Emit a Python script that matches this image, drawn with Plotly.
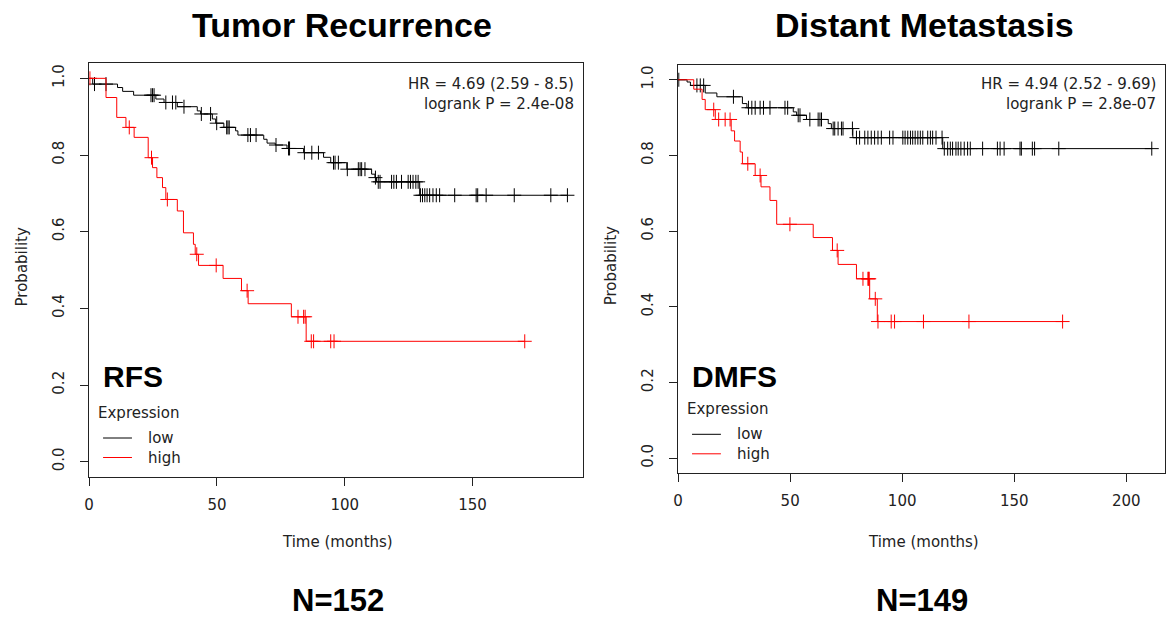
import plotly.graph_objects as go

W, H = 1166, 617

# ---------------- data: Tumor Recurrence (RFS) ----------------
rfs_low_t = [0, 1.4, 11.1, 13.1, 17.4, 26.1, 29.3, 34.5, 42.3, 43.6, 48.2, 49.5, 52.7, 57.3, 58.2,
             68.3, 69.6, 72.8, 77.4, 83.9, 91.7, 94.5, 100.8, 110.5, 111.8, 112.4, 129.3]
rfs_low_s = [1.0, 0.985, 0.976, 0.966, 0.956, 0.946, 0.937, 0.926, 0.915, 0.907, 0.894, 0.883, 0.872, 0.863, 0.852,
             0.841, 0.831, 0.826, 0.817, 0.806, 0.794, 0.780, 0.763, 0.750, 0.741, 0.730, 0.695]
rfs_low_cens = [2.1, 6.6, 24.2, 24.8, 25.4, 30.0, 32.6, 33.9, 37.1, 43.9, 47.5, 49.9, 53.8, 54.3, 54.8,
                62.1, 63.1, 65.3, 73.1, 78.0, 78.4, 84.2, 87.1, 89.7, 95.6, 96.2, 97.5, 101.0, 105.3, 106.0,
                106.6, 107.9, 112.0, 113.1, 113.8, 118.3, 119.2, 120.2, 122.2, 124.8, 125.7, 126.7, 127.8,
                128.7, 129.6, 130.4, 131.3, 132.2, 133.2, 134.5, 135.8, 137.1, 143.0, 151.4, 152.0, 155.3,
                166.3, 180.6, 187.1]
rfs_high_t = [0, 6.6, 10.8, 14.4, 17.6, 23.1, 24.8, 26.5, 28.7, 30.0, 34.5, 36.9, 40.8, 41.5, 42.8,
              52.4, 59.6, 62.2, 79.1, 84.9]
rfs_high_s = [1.0, 0.950, 0.898, 0.872, 0.846, 0.793, 0.767, 0.741, 0.715, 0.684, 0.654, 0.597, 0.567, 0.541, 0.512,
              0.478, 0.446, 0.412, 0.378, 0.314]
rfs_high_cens = [0.3, 15.7, 24.4, 30.6, 42.1, 49.7, 61.8, 81.7, 83.9, 84.5, 86.9, 87.8, 94.5, 95.8, 170.4]

# ---------------- data: Distant Metastasis (DMFS) ----------------
dmfs_low_t = [0, 4.0, 5.5, 12.1, 17.3, 28.7, 30.7, 51.4, 52.9, 57.3, 67.0, 68.4, 78.0, 118.1]
dmfs_low_s = [1.0, 0.994, 0.985, 0.965, 0.955, 0.937, 0.926, 0.915, 0.906, 0.895, 0.884, 0.871, 0.847, 0.818]
dmfs_low_cens = [0.3, 8.4, 9.9, 11.4, 24.7, 31.4, 32.9, 34.4, 36.6, 38.1, 41.0, 47.7, 48.9, 53.6, 54.4,
                 58.8, 62.5, 63.3, 64.0, 69.2, 69.9, 71.4, 72.9, 73.6, 77.8, 79.6, 81.0, 83.3, 84.7, 86.2,
                 87.7, 89.2, 90.7, 94.4, 95.9, 100.3, 101.3, 102.5, 103.7, 104.7, 105.8, 107.0, 108.1, 109.2,
                 111.4, 112.6, 113.6, 115.1, 117.8, 118.8, 120.3, 121.5, 122.5, 124.0, 125.0, 126.2, 127.7,
                 129.2, 130.4, 135.9, 142.5, 143.7, 145.5, 152.6, 153.2, 158.1, 159.1, 169.9, 211.4]
dmfs_high_t = [0, 7.0, 10.7, 12.1, 16.6, 23.7, 25.2, 27.7, 28.7, 34.4, 37.0, 41.0, 44.0, 60.3, 68.9,
               71.4, 79.6, 85.5, 88.9]
dmfs_high_s = [1.0, 0.975, 0.948, 0.921, 0.895, 0.865, 0.838, 0.809, 0.778, 0.747, 0.717, 0.681, 0.618, 0.583,
               0.549, 0.512, 0.474, 0.421, 0.361]
dmfs_high_cens = [15.9, 18.1, 21.0, 23.2, 31.1, 36.6, 49.9, 71.0, 82.5, 84.7, 85.0, 85.3, 88.0, 89.2,
                  95.1, 96.6, 109.5, 129.8, 171.6]

panels = [
    dict(title="Tumor Recurrence", n="N=152", tag="RFS", hr="HR = 4.69 (2.59 - 8.5)", p="logrank P = 2.4e-08",
         low=(rfs_low_t, rfs_low_s, rfs_low_cens), high=(rfs_high_t, rfs_high_s, rfs_high_cens),
         xticks=[0, 50, 100, 150], xmax=193.0, tdx=6, ndx=2),
    dict(title="Distant Metastasis", n="N=149", tag="DMFS", hr="HR = 4.94 (2.52 - 9.69)", p="logrank P = 2.8e-07",
         low=(dmfs_low_t, dmfs_low_s, dmfs_low_cens), high=(dmfs_high_t, dmfs_high_s, dmfs_high_cens),
         xticks=[0, 50, 100, 150, 200], xmax=217.3, tdx=3, ndx=0),
]

# layout geometry in pixels (left, right, top, bottom of plot box)
boxes = [(84.5, 580.0, 63.0, 477.0), (676.0, 1165.0, 64.6, 473.3)]

def X(px):
    return px / W

def Y(py):
    return 1 - py / H

def step_at(ts, ss, c):
    v = ss[0]
    for t, s in zip(ts, ss):
        if t <= c:
            v = s
    return v

SANS = "DejaVu Sans"
BOLD = "Liberation Sans"
BLACK = "#000000"
RED = "#FF0000"
TXT = "#222222"

fig = go.Figure()
annotations = []
shapes = []

for i, (pn, box) in enumerate(zip(panels, boxes)):
    xa = "x" if i == 0 else "x2"
    ya = "y" if i == 0 else "y2"
    for key, col in (("low", BLACK), ("high", RED)):
        ts, ss, cens = pn[key]
        end = max(max(cens), ts[-1])
        xs = list(ts) + [end]
        ys = list(ss) + [ss[-1]]
        fig.add_trace(go.Scatter(x=xs, y=ys, mode="lines", line=dict(color=col, width=1, shape="hv"),
                                 xaxis=xa, yaxis=ya, showlegend=False, hoverinfo="skip"))
        cy = [step_at(ts, ss, c) for c in cens]
        fig.add_trace(go.Scatter(x=cens, y=cy, mode="markers",
                                 marker=dict(symbol="cross-thin", size=10, line=dict(color=col, width=1)),
                                 xaxis=xa, yaxis=ya, showlegend=False, hoverinfo="skip"))

    l, r, t, b = box
    cx = (l + r) / 2
    axis_common = dict(showgrid=False, zeroline=False, showline=True, mirror=True, linecolor=TXT,
                       linewidth=1, ticks="outside", ticklen=8, tickcolor=TXT, tickwidth=1,
                       tickfont=dict(family=SANS, size=15, color=TXT))
    xaxis = dict(axis_common, domain=[X(l), X(r)], range=[0, pn["xmax"]], tickvals=pn["xticks"],
                 anchor=ya, ticklabelstandoff=6)
    yaxis = dict(axis_common, domain=[Y(b), Y(t)], range=[-0.04, 1.04],
                 tickvals=[0, 0.2, 0.4, 0.6, 0.8, 1.0], ticktext=["0.0", "0.2", "0.4", "0.6", "0.8", "1.0"],
                 tickangle=-90, anchor=xa, ticklabelstandoff=10)
    if i == 0:
        fig.update_layout(xaxis=xaxis, yaxis=yaxis)
    else:
        fig.update_layout(xaxis2=xaxis, yaxis2=yaxis)

    # titles
    annotations.append(dict(x=X(cx + pn["tdx"]), y=Y(25), text="<b>%s</b>" % pn["title"], showarrow=False,
                            xref="paper", yref="paper", font=dict(family=BOLD, size=34, color="black"),
                            xanchor="center", yanchor="middle"))
    annotations.append(dict(x=X(cx + pn["ndx"]), y=Y(600), text="<b>%s</b>" % pn["n"], showarrow=False,
                            xref="paper", yref="paper", font=dict(family=BOLD, size=31, color="black"),
                            xanchor="center", yanchor="middle"))
    # axis titles
    annotations.append(dict(x=X(cx + 2), y=Y(542), text="Time (months)", showarrow=False,
                            xref="paper", yref="paper", font=dict(family=SANS, size=15, color=TXT),
                            xanchor="center", yanchor="middle"))
    annotations.append(dict(x=X(l - 67), y=Y((t + b) / 2 - 3), text="Probability", showarrow=False,
                            textangle=-90, xref="paper", yref="paper",
                            font=dict(family=SANS, size=15, color=TXT), xanchor="center", yanchor="middle"))
    # HR / logrank
    annotations.append(dict(x=X(r - 7), y=Y(84), text=pn["hr"], showarrow=False, xref="paper", yref="paper",
                            font=dict(family=SANS, size=15, color=TXT), xanchor="right", yanchor="middle"))
    annotations.append(dict(x=X(r - 7), y=Y(103.5), text=pn["p"], showarrow=False, xref="paper", yref="paper",
                            font=dict(family=SANS, size=15, color=TXT), xanchor="right", yanchor="middle"))
    # RFS / DMFS tag
    annotations.append(dict(x=X(l + 12), y=Y(376), text="<b>%s</b>" % pn["tag"], showarrow=False,
                            xref="paper", yref="paper", font=dict(family=BOLD, size=30, color="black"),
                            xanchor="left", yanchor="middle"))
    # legend
    annotations.append(dict(x=X(l + 7), y=Y(b - 64), text="Expression", showarrow=False,
                            xref="paper", yref="paper", font=dict(family=SANS, size=15, color=TXT),
                            xanchor="left", yanchor="middle"))
    for j, (lab, col) in enumerate((("low", BLACK), ("high", RED))):
        yy = b - 39 + j * 19.5
        shapes.append(dict(type="line", xref="paper", yref="paper", x0=X(l + 14), x1=X(l + 43),
                           y0=Y(yy), y1=Y(yy), line=dict(color=col, width=1)))
        annotations.append(dict(x=X(l + 57), y=Y(yy), text=lab, showarrow=False,
                                xref="paper", yref="paper", font=dict(family=SANS, size=15, color=TXT),
                                xanchor="left", yanchor="middle"))

fig.update_layout(width=W, height=H, margin=dict(l=0, r=0, t=0, b=0), paper_bgcolor="white",
                  plot_bgcolor="white", annotations=annotations, shapes=shapes)

fig.write_html("out.html", config={"displayModeBar": False},
               post_script="document.body.style.margin='0px';document.body.style.overflow='hidden';")
